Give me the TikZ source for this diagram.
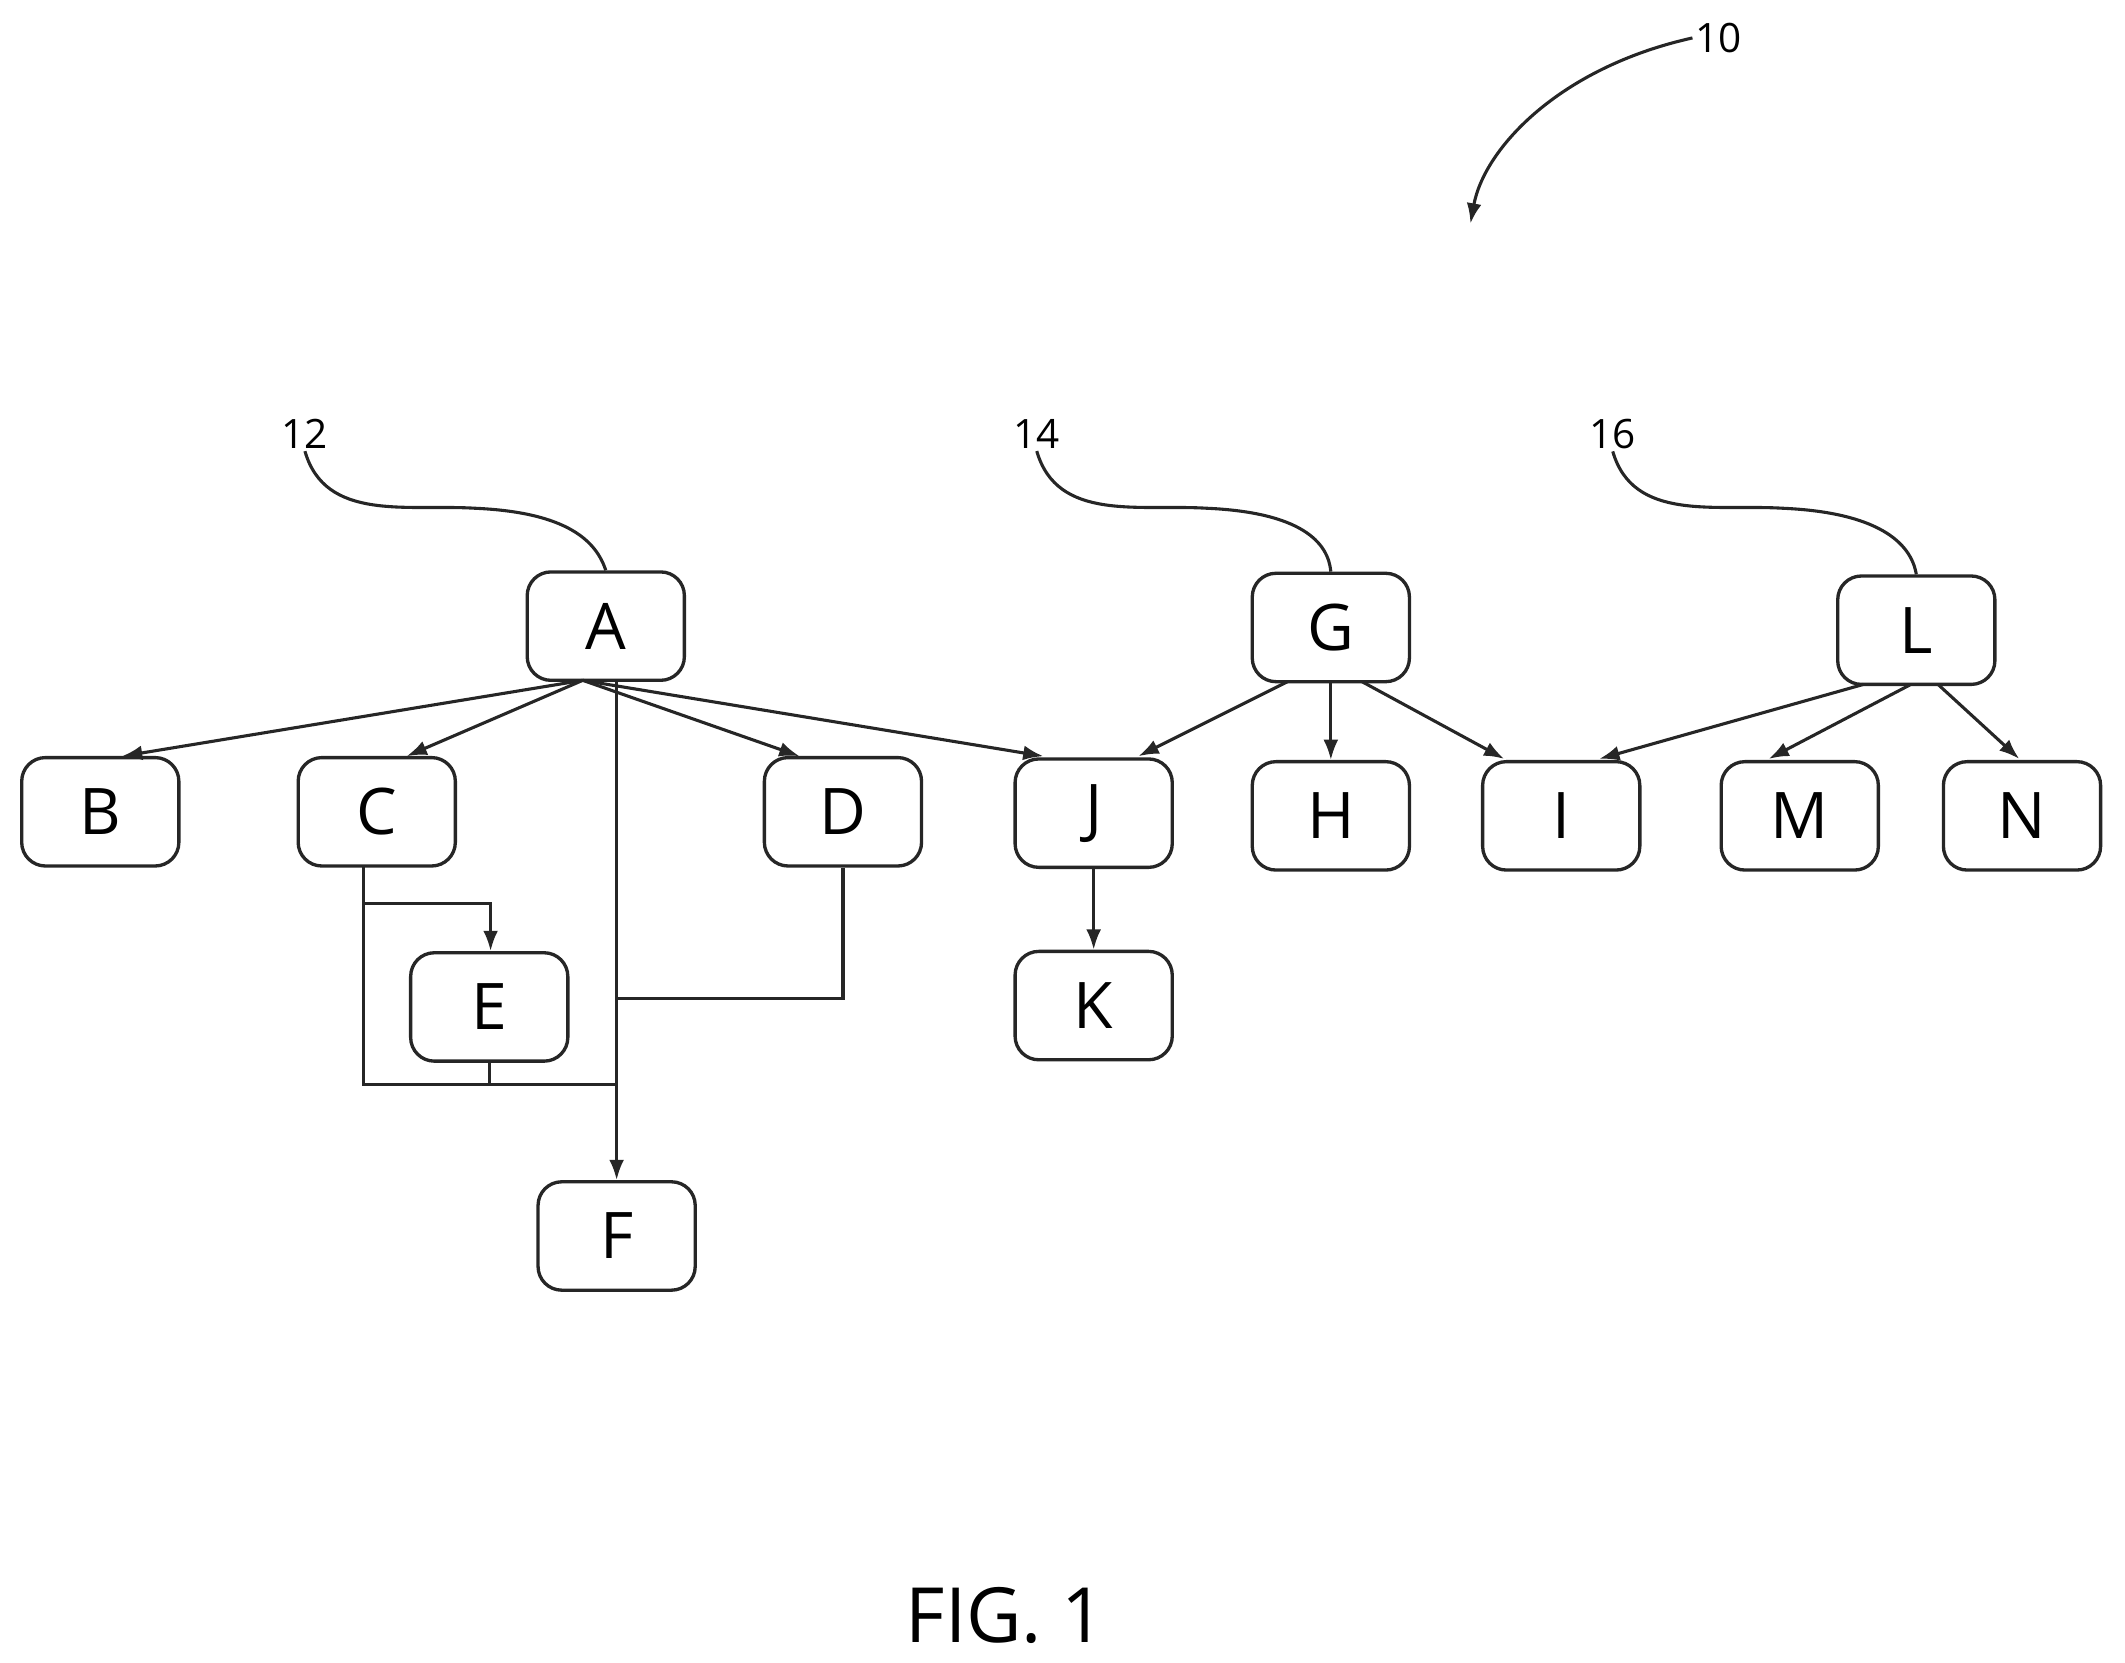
\documentclass[tikz,border=0pt]{standalone}
\usepackage{fontspec}
\setmainfont{Open Sans}
\usetikzlibrary{arrows.meta}
\begin{document}
\begin{tikzpicture}[x=0.02cm,y=-0.02cm,
  box/.style={draw=black!85,line width=1.4pt,rounded corners=0.35cm,minimum width=2.32cm,minimum height=1.6cm,font=\fontsize{27}{30}\selectfont,inner sep=0pt},
  con/.style={draw=black!85,line width=1.3pt},
  arr/.style={con,-{Latex[length=0.3cm,width=0.22cm]}},
  lbl/.style={font=\fontsize{17}{19}\selectfont,inner sep=1pt}]
\useasboundingbox (0,0) rectangle (1568,1227);
\node[box] (A) at (447,462) {A};
\node[box] (B) at (74,599) {B};
\node[box] (C) at (278,599) {C};
\node[box] (D) at (622,599) {D};
\node[box] (J) at (807,600) {J};
\node[box] (H) at (982,602) {H};
\node[box] (I) at (1152,602) {I};
\node[box] (M) at (1328,602) {M};
\node[box] (N) at (1492,602) {N};
\node[box] (E) at (361,743) {E};
\node[box] (F) at (455,912) {F};
\node[box] (K) at (807,742) {K};
\node[box] (G) at (982,463) {G};
\node[box] (L) at (1414,465) {L};
\coordinate (a1) at (430,502);
\coordinate (a2) at (455,502);
\draw[arr] (a1) -- (90,558);
\draw[arr] (a1) -- (300,558);
\draw[arr] (a1) -- (590,558);
\draw[arr] (a1) -- (770,558);
\draw[arr] (a2) -- (F.north -| a2);
\coordinate (c1) at (268,640);
\coordinate (c2) at (268,800);
\coordinate (j1) at (455,800);
\coordinate (j2) at (455,737);
\draw[con] (c1) -- (c2) -- (j1);
\draw[arr] (268,667) -- (362,667) -- (E.north -| 362,0);
\draw[con] (E.south) -- (E.south |- c2);
\draw[con] (D.south) -- (D.south |- j2) -- (j2);
\draw[arr] (950,503) -- (840,558);
\draw[arr] (G.south) -- (H.north);
\draw[arr] (1005,503) -- (1110,560);
\draw[arr] (1375,505) -- (1180,560);
\draw[arr] (1410,505) -- (1305,560);
\draw[arr] (1430,505) -- (1490,560);
\draw[arr] (J.south) -- (K.north);
\node[lbl] (l12) at (225,320) {12};
\node[lbl] (l14) at (765,320) {14};
\node[lbl] (l16) at (1190,320) {16};
\node[lbl] (l10) at (1268,28) {10};
\draw[con] (l12.south) .. controls (240,385) and (300,372) .. (350,375) .. controls (420,378) and (440,400) .. (A.north);
\draw[con] (l14.south) .. controls (780,385) and (840,372) .. (890,375) .. controls (960,378) and (980,400) .. (G.north);
\draw[con] (l16.south) .. controls (1205,385) and (1265,372) .. (1315,375) .. controls (1385,378) and (1410,400) .. (L.north);
\draw[arr] (l10.west) .. controls (1150,50) and (1095,110) .. (1085,165);
\node[font=\fontsize{32}{36}\selectfont] (fig) at (742,1192) {FIG. 1};
\end{tikzpicture}
\end{document}
